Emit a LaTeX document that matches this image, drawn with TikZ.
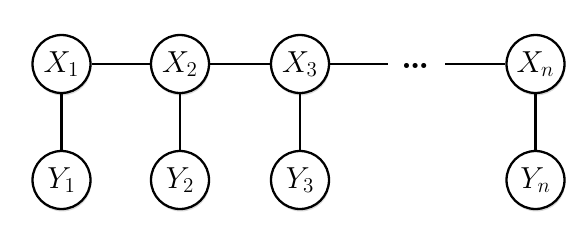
\documentclass[tikz,border=0pt]{standalone}
\usetikzlibrary{shadows}
\begin{document}
\begin{tikzpicture}[x=0.02cm, y=-0.02cm, line width=1.3pt,
  var/.style={circle, draw, fill=white, minimum size=1.16cm, inner sep=0pt,
    font=\fontsize{18}{20}\selectfont,
    drop shadow={shadow xshift=0.5pt, shadow yshift=-1.4pt, opacity=0.3}}]
  % 画布范围
  \useasboundingbox (0,0) rectangle (588,238);

  % 隐变量 X
  \node[var] (x1) at (61.5,64) {$X_1$};
  \node[var] (x2) at (180,64) {$X_2$};
  \node[var] (x3) at (300,64) {$X_3$};
  \node[var] (xn) at (535.5,64) {$X_n$};

  % 观测变量 Y
  \node[var] (y1) at (61.5,180) {$Y_1$};
  \node[var] (y2) at (180,180) {$Y_2$};
  \node[var] (y3) at (300,180) {$Y_3$};
  \node[var] (yn) at (535.5,180) {$Y_n$};

  % 省略号
  \coordinate (gapl) at (388,64);
  \coordinate (gapr) at (445,64);
  \node[font=\fontsize{20}{22}\selectfont\bfseries] (dots) at (415.5,66) {\dots};

  % 链上的边
  \draw (x1) -- (x2);
  \draw (x2) -- (x3);
  \draw (x3) -- (gapl);
  \draw (gapr) -- (xn);

  % 发射边
  \draw (x1) -- (y1);
  \draw (x2) -- (y2);
  \draw (x3) -- (y3);
  \draw (xn) -- (yn);
\end{tikzpicture}
\end{document}
